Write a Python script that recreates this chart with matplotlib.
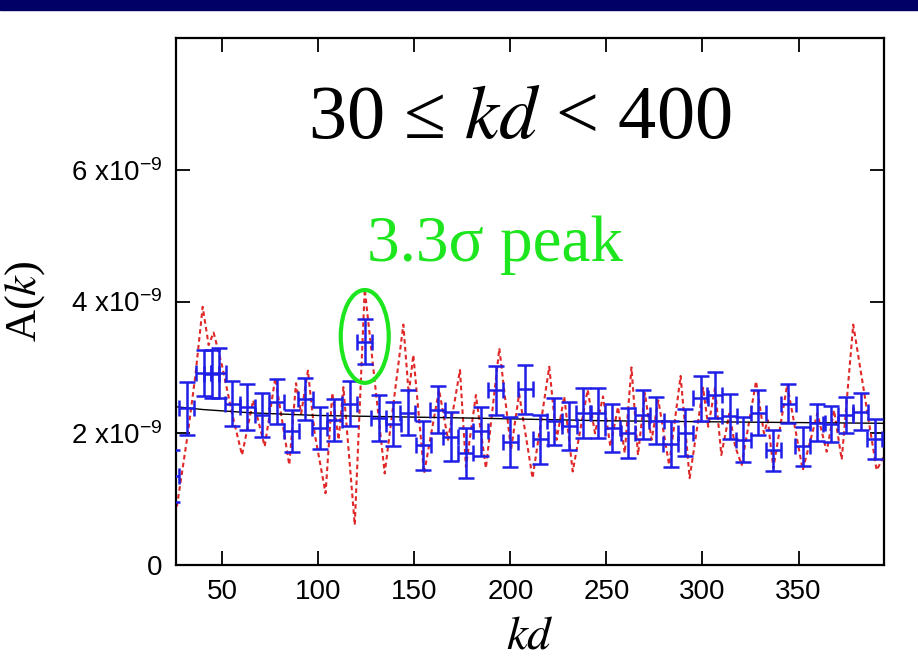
import matplotlib
matplotlib.use("Agg")
import matplotlib.pyplot as plt
from matplotlib.patches import Ellipse, Rectangle

plt.rcParams['mathtext.fontset'] = 'custom'
plt.rcParams['mathtext.rm'] = 'Liberation Sans'
plt.rcParams['mathtext.it'] = 'Liberation Sans:italic'

# binned amplitude A(k) (units of 1e-9) with errors
kd_bins = [23.5, 31.5, 40.2, 44.5, 48.0, 55.0, 62.8, 70.6, 78.4, 86.2, 93.1, 100.6,
           108.1, 116.4, 124.1, 131.5, 139.0, 146.6, 154.6, 162.2, 168.8, 176.8,
           184.6, 192.4, 199.9, 207.6, 215.4, 222.8, 230.6, 237.9, 245.4, 252.9,
           261.2, 269.0, 275.9, 283.4, 291.0, 299.0, 306.3, 314.2, 321.3, 329.1,
           336.9, 344.7, 352.2, 359.8, 366.8, 374.7, 382.4, 389.8]
amp_bins = [1.35, 2.38, 2.91, 2.90, 2.91, 2.45, 2.40, 2.28, 2.48, 2.03, 2.52, 2.08,
            2.20, 2.45, 3.39, 2.23, 2.14, 2.31, 1.82, 2.36, 1.95, 1.70,
            2.03, 2.65, 1.87, 2.67, 1.91, 2.18, 2.11, 2.31, 2.31, 2.08,
            2.00, 2.28, 2.19, 1.84, 2.01, 2.53, 2.58, 2.26, 1.90, 2.31,
            1.74, 2.45, 1.80, 2.16, 2.14, 2.28, 2.33, 1.91]
amp_err = [0.40, 0.40, 0.35, 0.37, 0.38, 0.34, 0.35, 0.33, 0.34, 0.32, 0.32, 0.32,
           0.32, 0.34, 0.34, 0.35, 0.34, 0.34, 0.37, 0.36, 0.37, 0.38,
           0.37, 0.37, 0.38, 0.37, 0.37, 0.36, 0.37, 0.38, 0.38, 0.37,
           0.38, 0.37, 0.36, 0.35, 0.36, 0.34, 0.35, 0.34, 0.34, 0.34,
           0.31, 0.30, 0.29, 0.28, 0.27, 0.27, 0.28, 0.30]
bin_half = 3.9

# unbinned spectrum (red dotted), read at its turning points
kd_fine = [26.3, 32.0, 36.0, 39.7, 42.8, 45.4, 50.0, 55.0, 60.2, 66.0, 72.0, 77.5,
           84.8, 88.3, 91.0, 94.5, 98.0, 103.7, 107.2, 110.5, 113.0, 118.9, 124.1,
           134.5, 144.2, 147.0, 149.4, 155.0, 162.8, 167.5, 173.7, 176.8, 182.0,
           187.2, 194.2, 200.3, 204.5, 211.5, 220.2, 224.0, 228.0, 232.4, 240.2,
           244.0, 248.2, 252.0, 256.0, 259.5, 263.0, 266.4, 270.0, 273.5, 277.0,
           282.6, 288.6, 293.3, 300.3, 303.0, 306.5, 309.8, 314.0, 317.0, 320.4,
           327.9, 332.0, 334.0, 336.9, 344.1, 352.2, 359.8, 364.7, 368.5, 372.5,
           378.5, 390.7, 394.5]
amp_fine = [0.89, 2.00, 2.90, 3.92, 3.34, 3.53, 3.00, 2.30, 1.67, 2.50, 1.80, 2.84,
            1.52, 2.76, 2.30, 2.95, 2.00, 1.09, 2.61, 1.90, 2.70, 0.61, 4.19,
            1.39, 3.65, 2.60, 3.19, 1.39, 2.66, 1.90, 2.96, 1.49, 2.58,
            1.47, 3.29, 1.75, 2.60, 1.32, 3.01, 1.90, 2.56, 1.42, 2.66,
            2.00, 2.56, 1.80, 2.40, 1.70, 3.00, 1.67, 2.61, 1.90, 2.50,
            1.52, 2.87, 1.32, 2.69, 2.10, 2.69, 1.67, 2.30, 1.80, 1.52,
            2.79, 2.00, 2.20, 1.47, 2.74, 1.44, 2.30, 1.72, 2.35, 1.60,
            3.65, 1.44, 1.65]

# smooth fit (black)
kd_fit = [20, 40, 65, 100, 140, 181, 249, 320, 400]
amp_fit = [2.42, 2.36, 2.31, 2.27, 2.25, 2.23, 2.19, 2.17, 2.15]

scale = 1e-9

fig = plt.figure(figsize=(9.18, 6.58), dpi=100)
fig.patches.append(Rectangle((0, 1 - 10 / 658), 1, 10 / 658, transform=fig.transFigure,
                             color='#000066', zorder=0))
ax = fig.add_axes([0.1917, 0.1413, 0.7708, 0.8009])

ax.plot(kd_fine, [v * scale for v in amp_fine], color='#e02828', lw=1.5,
        linestyle=(0, (2.2, 1.6)), zorder=2)
ax.plot(kd_fit, [v * scale for v in amp_fit], color='black', lw=1.0, zorder=3)
ax.errorbar(kd_bins, [v * scale for v in amp_bins], yerr=[v * scale for v in amp_err],
            xerr=bin_half, fmt='none', ecolor='#1e1ee6', elinewidth=1.8,
            capsize=5.5, capthick=1.8, zorder=4)

ax.add_patch(Ellipse((124.1, 3.47e-9), 25, 1.41e-9, fill=False,
                     edgecolor='#1ee61e', lw=3, zorder=5))

ax.set_xlim(25.8, 394.3)
ax.set_ylim(0, 8e-9)
ax.set_xticks([50, 100, 150, 200, 250, 300, 350])
ax.set_yticks([0, 2e-9, 4e-9, 6e-9])
ax.set_yticklabels(['0', r'2 x10$^{-9}$', r'4 x10$^{-9}$', r'6 x10$^{-9}$'])
ax.tick_params(direction='in', length=10, width=1.3, top=True, right=True,
               labelsize=20, pad=10)
for lab in ax.get_xticklabels() + ax.get_yticklabels():
    lab.set_fontfamily('Liberation Sans')
for sp in ax.spines.values():
    sp.set_linewidth(1.6)

ax.set_ylabel('A($k$)', fontsize=32, family='Liberation Serif', math_fontfamily='stix')
ax.yaxis.set_label_coords(-0.182, 0.50)
ax.set_xlabel('$kd$', fontsize=34, math_fontfamily='stix')
ax.xaxis.set_label_coords(0.50, -0.092)

ax.text(0.486, 0.845, '30 ≤ $kd$ < 400', transform=ax.transAxes, ha='center',
        va='center', fontsize=55, family=['Liberation Serif', 'DejaVu Serif'],
        math_fontfamily='stix')
ax.text(0.451, 0.607, '3.3σ peak', transform=ax.transAxes, ha='center',
        va='center', fontsize=47, family='Liberation Serif', color='#1ee61e')

fig.savefig('out.png', dpi=100)
